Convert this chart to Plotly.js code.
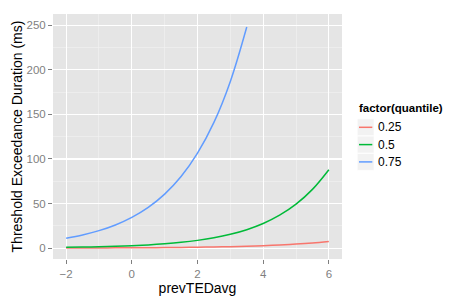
<!DOCTYPE html>
<html><head><meta charset="utf-8">
<script src="https://cdn.plot.ly/plotly-3.0.1.min.js"></script>
<style>body{margin:0;padding:0;}#chart{width:475px;height:302px;}</style>
</head><body><div id="chart"></div>
<script>
const seriesNames = ["0.25", "0.5", "0.75"];
const seriesColors = ["#F8766D", "#00BA38", "#619CFF"];
const legendTitle = "factor(quantile)";
const xLong = [-2,-1.5,-1,-0.5,0,0.5,1,1.5,2,2.5,3,3.5,4,4.5,5,5.5,6];
const xBlue = [-2,-1.5,-1,-0.5,0,0.5,1,1.5,2,2.5,3,3.5];
const yQ25 = [0.14,0.18,0.22,0.29,0.37,0.48,0.62,0.79,1.02,1.3,1.67,2.15,2.76,3.54,4.55,5.84,7.5];
const yQ50 = [0.85,1.14,1.52,2.04,2.7,3.6,4.86,6.5,8.7,11.6,15.5,20.7,27.6,36.9,49.3,65.9,88];
const yQ75 = [11.2,14.8,19.6,26,34.5,45.7,60.6,80.3,106.5,141,187,248];
const xTicks = [-2,0,2,4,6];
const yTicks = [0,50,100,150,200,250];

const W = 475, H = 302, ML = 53, MR = 133, MT = 14, MB = 43;
const PW = W - ML - MR, PH = H - MT - MB;
const px = x => (x - ML) / PW;
const py = y => (H - MB - y) / PH;

const xs = [xLong, xLong, xBlue];
const ys = [yQ25, yQ50, yQ75];
const traces = seriesNames.map((n,i)=>({
  x: xs[i], y: ys[i], name: n, type: 'scatter', mode: 'lines',
  line: {color: seriesColors[i], width: 1.5, shape: 'spline'}, showlegend: false
}));
const font = "'Liberation Sans', Arial, Helvetica, sans-serif";

const shapes = [], annotations = [];
annotations.push({xref:'paper', yref:'paper', x: px(357), y: py(108.5), xanchor:'left', yanchor:'middle',
  text: '<b>'+legendTitle+'</b>', showarrow:false, font:{family:font, size:11.5, color:'#000'}});
seriesNames.forEach((n,i)=>{
  const cy = 127.3 + i*17.3;
  shapes.push({type:'rect', xref:'paper', yref:'paper', x0: px(357.3), x1: px(374), y0: py(cy-8.4), y1: py(cy+8.4),
    fillcolor:'#F2F2F2', line:{width:0.6, color:'#FFFFFF'}, layer:'above'});
  shapes.push({type:'line', xref:'paper', yref:'paper', x0: px(359), x1: px(372.3), y0: py(cy), y1: py(cy),
    line:{color: seriesColors[i], width:1.5}, layer:'above'});
  annotations.push({xref:'paper', yref:'paper', x: px(375.5), y: py(cy), xanchor:'left', yanchor:'middle',
    text: n, showarrow:false, font:{family:font, size:12, color:'#000'}});
});

const layout = {
  width: W, height: H,
  margin: {l: ML, r: MR, t: MT, b: MB},
  paper_bgcolor: '#FFFFFF', plot_bgcolor: '#E5E5E5',
  font: {family: font, size: 12, color: '#000'},
  xaxis: {
    range: [-2.4, 6.4], tickvals: xTicks, ticktext: xTicks.map(v=>v<0?'\u2212'+Math.abs(v):String(v)),
    showgrid: true, gridcolor: '#FFFFFF', gridwidth: 1.1, zeroline: false, showline: false,
    ticks: 'outside', ticklen: 4, tickcolor: '#7F7F7F', tickwidth: 1,
    tickfont: {family: font, size: 11.5, color: '#7F7F7F'},
    minor: {dtick: 1, tick0: 0, showgrid: true, gridcolor: '#F2F2F2', gridwidth: 0.6},
    title: {text: 'prevTEDavg', font: {family: font, size: 14, color: '#000'}, standoff: 0}
  },
  yaxis: {
    range: [-12.2, 262.6], tickvals: yTicks,
    showgrid: true, gridcolor: '#FFFFFF', gridwidth: 1.1, zeroline: false, showline: false,
    ticks: 'outside', ticklen: 4, tickcolor: '#7F7F7F', tickwidth: 1,
    tickfont: {family: font, size: 11.5, color: '#7F7F7F'},
    minor: {dtick: 25, tick0: 0, showgrid: true, gridcolor: '#F2F2F2', gridwidth: 0.6},
    title: {text: 'Threshold Exceedance Duration (ms)', font: {family: font, size: 14, color: '#000'}, standoff: 0}
  },
  showlegend: false,
  shapes: shapes,
  annotations: annotations
};
Plotly.newPlot('chart', traces, layout, {displayModeBar: false, staticPlot: true});
</script></body></html>
